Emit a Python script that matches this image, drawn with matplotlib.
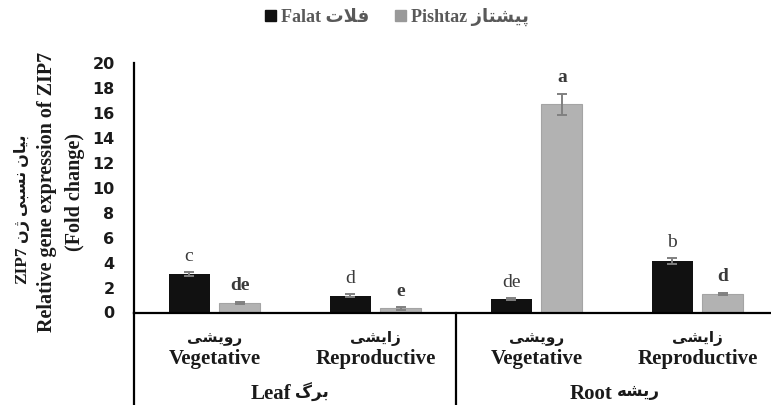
import matplotlib
matplotlib.use("Agg")
import matplotlib.pyplot as plt
from matplotlib.lines import Line2D
from matplotlib.patches import Patch
import matplotlib.transforms as mtransforms
import numpy as np

# ---------------- data ----------------
categories_en = ["Vegetative", "Reproductive", "Vegetative", "Reproductive"]
categories_fa = ["رویشی", "زایشی", "رویشی", "زایشی"]
groups_en = ["Leaf", "Root"]
groups_fa = ["برگ", "ریشه"]
series_en = ["Falat", "Pishtaz"]
series_fa = ["فلات", "پیشتاز"]
falat = [3.1, 1.35, 1.08, 4.12]
falat_err = [0.15, 0.12, 0.10, 0.23]
pishtaz = [0.80, 0.33, 16.7, 1.50]
pishtaz_err = [0.08, 0.10, 0.85, 0.10]
letters_falat = ["c", "d", "de", "b"]
letters_pishtaz = ["de", "e", "a", "d"]
yticks = [0, 2, 4, 6, 8, 10, 12, 14, 16, 18, 20]
ylabel_fa = "بیان نسبی ژن"
ylabel_lines = ["ZIP7", "Relative gene expression of ZIP7", "(Fold change)"]

# ------------- simple Persian shaping (presentation forms, visual order) -------------
FORMS = {
    "ا": ("\uFE8D", "\uFE8E"),
    "ب": ("\uFE8F", "\uFE90", "\uFE91", "\uFE92"),
    "ت": ("\uFE95", "\uFE96", "\uFE97", "\uFE98"),
    "ر": ("\uFEAD", "\uFEAE"),
    "ز": ("\uFEAF", "\uFEB0"),
    "س": ("\uFEB1", "\uFEB2", "\uFEB3", "\uFEB4"),
    "ش": ("\uFEB5", "\uFEB6", "\uFEB7", "\uFEB8"),
    "ف": ("\uFED1", "\uFED2", "\uFED3", "\uFED4"),
    "ل": ("\uFEDD", "\uFEDE", "\uFEDF", "\uFEE0"),
    "ن": ("\uFEE5", "\uFEE6", "\uFEE7", "\uFEE8"),
    "ه": ("\uFEE9", "\uFEEA", "\uFEEB", "\uFEEC"),
    "و": ("\uFEED", "\uFEEE"),
    "پ": ("\uFB56", "\uFB57", "\uFB58", "\uFB59"),
    "ژ": ("\uFB8A", "\uFB8B"),
    "گ": ("\uFB92", "\uFB93", "\uFB94", "\uFB95"),
    "ی": ("\uFBFC", "\uFBFD", "\uFBFE", "\uFBFF"),
}


def fa(s):
    chars = list(s)
    res = []
    i = 0
    n = len(chars)
    while i < n:
        ch = chars[i]
        prev = chars[i - 1] if i > 0 else None
        pj = prev in FORMS and len(FORMS[prev]) == 4
        if ch not in FORMS:
            res.append(ch)
            i += 1
            continue
        nxt = chars[i + 1] if i + 1 < n else None
        if ch == "ل" and nxt == "ا":
            res.append("\uFEFC" if pj else "\uFEFB")
            i += 2
            continue
        f = FORMS[ch]
        nj = len(f) == 4 and nxt in FORMS
        if pj and nj:
            g = f[3]
        elif pj:
            g = f[1]
        elif nj:
            g = f[2]
        else:
            g = f[0]
        res.append(g)
        i += 1
    return "".join(reversed(res))


SERIF = ["Liberation Serif", "DejaVu Sans"]
TXT = "#1a1a1a"

# ---------------- figure ----------------
W, H = 771, 405
fig = plt.figure(figsize=(W / 100, H / 100), dpi=100)
x0_px, x1_px = 134, 778
y0_px, y1_px = 312.5, 63
ax = fig.add_axes([x0_px / W, 1 - y0_px / H, (x1_px - x0_px) / W, (y0_px - y1_px) / H])

x = np.arange(len(categories_en))
bw = 0.255
off = 0.158
c_falat = "#111111"
c_pish = "#b2b2b2"
err_kw = dict(ecolor="#808080", elinewidth=1.4, capsize=3.5, capthick=1.4)

ax.bar(x - off, falat, bw, color=c_falat, yerr=falat_err, error_kw=err_kw, zorder=2)
ax.bar(x + off, pishtaz, bw, color=c_pish, edgecolor="#a4a4a4", linewidth=0.8,
       yerr=pishtaz_err, error_kw=err_kw, zorder=2)

ax.set_xlim(-0.5, 3.5)
ax.set_ylim(0, 20)
ax.set_yticks(yticks)
ax.set_yticklabels([str(t) for t in yticks], fontfamily="DejaVu Sans",
                   fontweight="bold", fontsize=11.5, color=TXT)
ax.tick_params(axis="y", length=0, pad=14)
ax.set_xticks([])
for s in ["top", "right"]:
    ax.spines[s].set_visible(False)
ax.spines["left"].set_linewidth(1.6)
ax.spines["bottom"].set_linewidth(1.6)

# letter annotations
for i in range(len(x)):
    ax.annotate(letters_falat[i], (x[i] - off, falat[i] + falat_err[i]),
                xytext=(0, 8), textcoords="offset points", ha="center", va="baseline",
                fontfamily=SERIF, fontsize=14, color="#3a3a3a")
    ax.annotate(letters_pishtaz[i], (x[i] + off, pishtaz[i] + pishtaz_err[i]),
                xytext=(0, 8), textcoords="offset points", ha="center", va="baseline",
                fontfamily=SERIF, fontsize=14, fontweight="bold", color="#3a3a3a")

# category axis lines below the plot
bt = mtransforms.blended_transform_factory(ax.transData, fig.transFigure)
for xv in [-0.5, 1.5]:
    ax.add_line(Line2D([xv, xv], [0, 1 - y0_px / H], transform=bt, color="black",
                       lw=1.6, clip_on=False))

xt = ax.get_xaxis_transform()


def ax_y(px):
    return -(px - y0_px) / (y0_px - y1_px)


for i in range(len(x)):
    ax.text(x[i], ax_y(339), fa(categories_fa[i]), transform=xt, ha="center", va="center",
            fontfamily=SERIF, fontweight="bold", fontsize=11, color=TXT)
    ax.text(x[i], ax_y(359), categories_en[i], transform=xt, ha="center", va="center",
            fontfamily=SERIF, fontweight="bold", fontsize=15, color=TXT)
for g in range(len(groups_en)):
    gx = 2 * g + 0.5
    ax.annotate(groups_en[g], (gx, ax_y(394)), xycoords=xt, xytext=(-3, 0),
                textcoords="offset points", ha="right", va="center",
                fontfamily=SERIF, fontweight="bold", fontsize=15, color=TXT)
    ax.annotate(fa(groups_fa[g]), (gx, ax_y(392)), xycoords=xt, xytext=(0, 0),
                textcoords="offset points", ha="left", va="center",
                fontfamily=SERIF, fontweight="bold", fontsize=12, color=TXT)

# y label (three lines; first line mixes Latin and Persian)
fig.text(22 / W, 1 - 284 / H, ylabel_lines[0], rotation=90,
         ha="center", va="bottom", fontfamily=SERIF, fontweight="bold",
         fontsize=12.5, color=TXT)
fig.text(22 / W, 1 - 243 / H, fa(ylabel_fa), rotation=90,
         ha="center", va="bottom", fontfamily=SERIF, fontweight="bold",
         fontsize=11.5, color=TXT)
fig.text(47 / W, 1 - 192 / H, ylabel_lines[1], rotation=90, ha="center", va="center",
         fontfamily=SERIF, fontweight="bold", fontsize=14.5, color=TXT)
fig.text(75 / W, 1 - 192 / H, ylabel_lines[2], rotation=90, ha="center", va="center",
         fontfamily=SERIF, fontweight="bold", fontsize=14.5, color=TXT)

# legend
handles = [Patch(facecolor=c_falat, edgecolor=c_falat),
           Patch(facecolor="#999999", edgecolor="#999999")]
labels = [series_en[0] + " " + fa(series_fa[0]), series_en[1] + " " + fa(series_fa[1])]
leg = fig.legend(handles, labels, loc="center", bbox_to_anchor=(397 / W, 1 - 17 / H),
                 ncol=2, frameon=False, handlelength=0.6, handleheight=0.6,
                 handletextpad=0.3, columnspacing=1.4,
                 prop=dict(family=SERIF, weight="bold", size=13))
for t in leg.get_texts():
    t.set_color("#595959")

fig.savefig("out.png", dpi=100)
